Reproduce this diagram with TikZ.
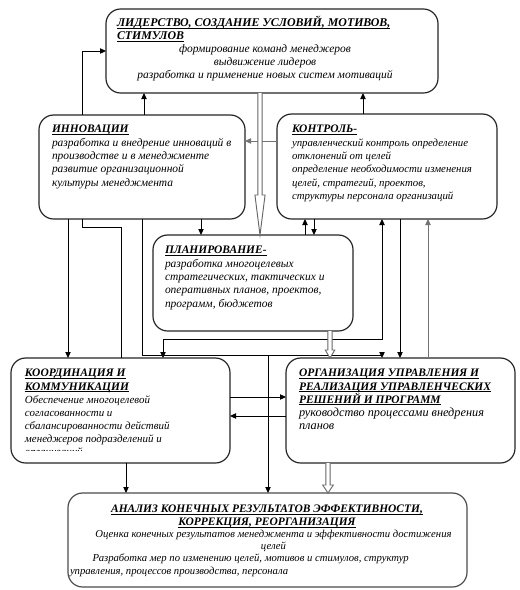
\documentclass[tikz,border=0pt]{standalone}
\usepackage{fontspec}
\setmainfont{Liberation Serif}
\usetikzlibrary{arrows.meta,calc}

\tikzset{
  box/.style={draw=black!85, line width=0.9pt, rounded corners=11pt, inner sep=0pt, outer sep=0pt},
  txt/.style={inner sep=0pt, outer sep=0pt, align=left, text=black},
  conn/.style={draw=black, line width=0.75pt},
  arr/.style={conn, -{Triangle[length=4.5pt,width=4pt]}},
  darr/.style={conn, {Triangle[length=4.5pt,width=4pt]}-{Triangle[length=4.5pt,width=4pt]}},
  garr/.style={arr, draw=black!55},
  hollow/.style={draw=black!60, line width=0.7pt, fill=white, line join=miter},
}
\newsavebox\ulbox
\newcommand\myul[1]{\leavevmode\sbox\ulbox{#1}\rlap{\rule[-1.3pt]{\wd\ulbox}{0.5pt}}\usebox\ulbox}
\newcommand\ttl[1]{\myul{\bfseries #1}}
\newcommand\tp{\rule{0pt}{8pt}}
\newcommand\hollowdown[4]{%
  \draw[hollow] let \p1=(#1), \p2=(#2) in
    (\x1-1.6pt,\y1) -- (\x1-1.6pt,\y2+#3) -- (\x1-#4,\y2+#3) -- (\x1,\y2)
    -- (\x1+#4,\y2+#3) -- (\x1+1.6pt,\y2+#3) -- (\x1+1.6pt,\y1);}

\begin{document}
\begin{tikzpicture}[x=0.75pt,y=-0.75pt]
\fill[white] (0,0) rectangle (520,590);
\useasboundingbox (0,0) rectangle (520,590);

% boxes
\node[box, minimum width=249pt, minimum height=63pt] (lead) at (272,51) {};
\node[box, minimum width=154.5pt, minimum height=78pt] (innov) at (142,167) {};
\node[box, minimum width=165pt, minimum height=78.75pt] (ctrl) at (387,166.5) {};
\node[box, minimum width=150pt, minimum height=72pt] (plan) at (253,283) {};
\node[box, minimum width=164.25pt, minimum height=78.75pt] (coord) at (120.5,410.5) {};
\node[box, minimum width=171.75pt, minimum height=78.75pt] (org) at (400.5,410.5) {};
\node[box, draw=black!70, minimum width=299.25pt, minimum height=70.5pt] (anal) at (267.5,540) {};

% column / row helpers
\foreach \c in {68,82,121,126,142,144,163,201,260,268,305,314,328,330,363,382,400,428}
  \coordinate (c\c) at (\c,0);
\foreach \r in {51,141,227,339,355,397,416}
  \coordinate (r\r) at (0,\r);

% connectors
\draw[arr] (innov.north -| c82) |- (lead.west);
\draw[arr] (innov.north -| c144) -- (lead.south -| c144);
\draw[arr] (ctrl.north -| c363) -- (lead.south -| c363);
\draw[garr] (ctrl.west |- r141) -- (innov.east |- r141);
\draw[arr] (innov.south -| c68) -- (coord.north -| c68);
\draw[conn] (innov.south -| c82) |- (c121 |- r227) -- (coord.north -| c121);
\draw[arr] (innov.south -| c142) |- (c382 |- r355) -- (org.north -| c382);
\draw[arr] (c268 |- r355) -- (anal.north -| c268);
\draw[arr] (innov.south -| c201) -- (plan.north -| c201);
\draw[arr] (plan.north -| c305) -- (ctrl.south -| c305);
\draw[arr] (ctrl.south -| c314) -- (plan.north -| c314);
\draw[darr] (coord.north -| c163) |- (c382 |- r339) -- (ctrl.south -| c382);
\draw[arr] (ctrl.south -| c400) -- (org.north -| c400);
\draw[garr] (org.north -| c428) -- (ctrl.south -| c428);
\draw[arr] (coord.east |- r397) -- (org.west |- r397);
\draw[arr] (org.west |- r416) -- (coord.east |- r416);
\draw[arr] (coord.south -| c126) -- (anal.north -| c126);

% hollow block arrows
\hollowdown{lead.south -| c260}{plan.north -| c260}{30pt}{3.8pt}
\hollowdown{plan.south -| c330}{org.north -| c330}{6pt}{3.6pt}
\hollowdown{org.south -| c328}{anal.north -| c328}{6pt}{4pt}

% texts
\node[txt, font=\fontsize{8.9}{9.7}\selectfont\itshape, anchor=north west] (leadT) at (117,16.3)
  {\tp\ttl{ЛИДЕРСТВО, СОЗДАНИЕ УСЛОВИЙ, МОТИВОВ,}\\\ttl{СТИМУЛОВ}};
\node[txt, align=center, font=\fontsize{8.6}{9.7}\selectfont\itshape, anchor=north] (leadB) at (265,42.2)
  {\tp формирование команд менеджеров\\выдвижение лидеров\\разработка и применение новых систем мотиваций};

\node[txt, font=\fontsize{8.6}{10}\selectfont\itshape, anchor=north west] (innovT) at (52,122.3)
  {\tp\ttl{ИННОВАЦИИ}\\разработка и внедрение инноваций в\\производстве и в менеджменте\\развитие организационной\\культуры менеджмента};

\node[txt, font=\fontsize{8.1}{10}\selectfont\itshape, anchor=north west] (ctrlT) at (292,122.3)
  {\tp{\fontsize{8.6}{10}\selectfont\ttl{КОНТРОЛЬ-}}\\управленческий контроль определение\\отклонений от целей\\определение необходимости изменения\\целей, стратегий, проектов,\\структуры персонала организаций};

\node[txt, font=\fontsize{8.6}{10}\selectfont\itshape, anchor=north west] (planT) at (165,243.3)
  {\tp\ttl{ПЛАНИРОВАНИЕ-}\\разработка многоцелевых\\стратегических, тактических и\\оперативных планов, проектов,\\программ, бюджетов};

\begin{scope}
\clip (11,358) rectangle (230,450.5);
\node[txt, font=\fontsize{8.2}{9.85}\selectfont\itshape, anchor=north west] (coordT) at (25,366.3)
  {\tp{\fontsize{8.6}{9.85}\selectfont\ttl{КООРДИНАЦИЯ И}}\\{\fontsize{8.6}{9.85}\selectfont\ttl{КОММУНИКАЦИИ}}\\Обеспечение многоцелевой\\согласованности и\\сбалансированности действий\\менеджеров подразделений и\\организаций};
\end{scope}

\node[txt, font=\fontsize{8.6}{9.9}\selectfont\itshape, anchor=north west] (orgT) at (299,366.3)
  {\tp\ttl{ОРГАНИЗАЦИЯ УПРАВЛЕНИЯ И}\\\ttl{РЕАЛИЗАЦИЯ УПРАВЛЕНЧЕСКИХ}\\\ttl{РЕШЕНИЙ И ПРОГРАММ}\\{\fontsize{9.2}{9.9}\selectfont руководство процессами внедрения}\\{\fontsize{9.2}{9.9}\selectfont планов}};

\node[txt, align=center, font=\fontsize{8.6}{9.75}\selectfont\itshape, anchor=north] (analT) at (267,502.3)
  {\tp\ttl{АНАЛИЗ КОНЕЧНЫХ РЕЗУЛЬТАТОВ ЭФФЕКТИВНОСТИ,}\\\ttl{КОРРЕКЦИЯ, РЕОРГАНИЗАЦИЯ}};
\node[txt, align=center, font=\fontsize{8.0}{9.2}\selectfont\itshape, anchor=north] (analB1) at (273.5,526.8)
  {\tp Оценка конечных результатов менеджмента и эффективности достижения\\целей};
\node[txt, font=\fontsize{8.0}{9.2}\selectfont\itshape, anchor=north west] (analB2) at (70,551.3)
  {\tp\hspace{17pt}Разработка мер по изменению целей, мотивов и стимулов, структур\\управления, процессов производства, персонала};
\end{tikzpicture}
\end{document}
